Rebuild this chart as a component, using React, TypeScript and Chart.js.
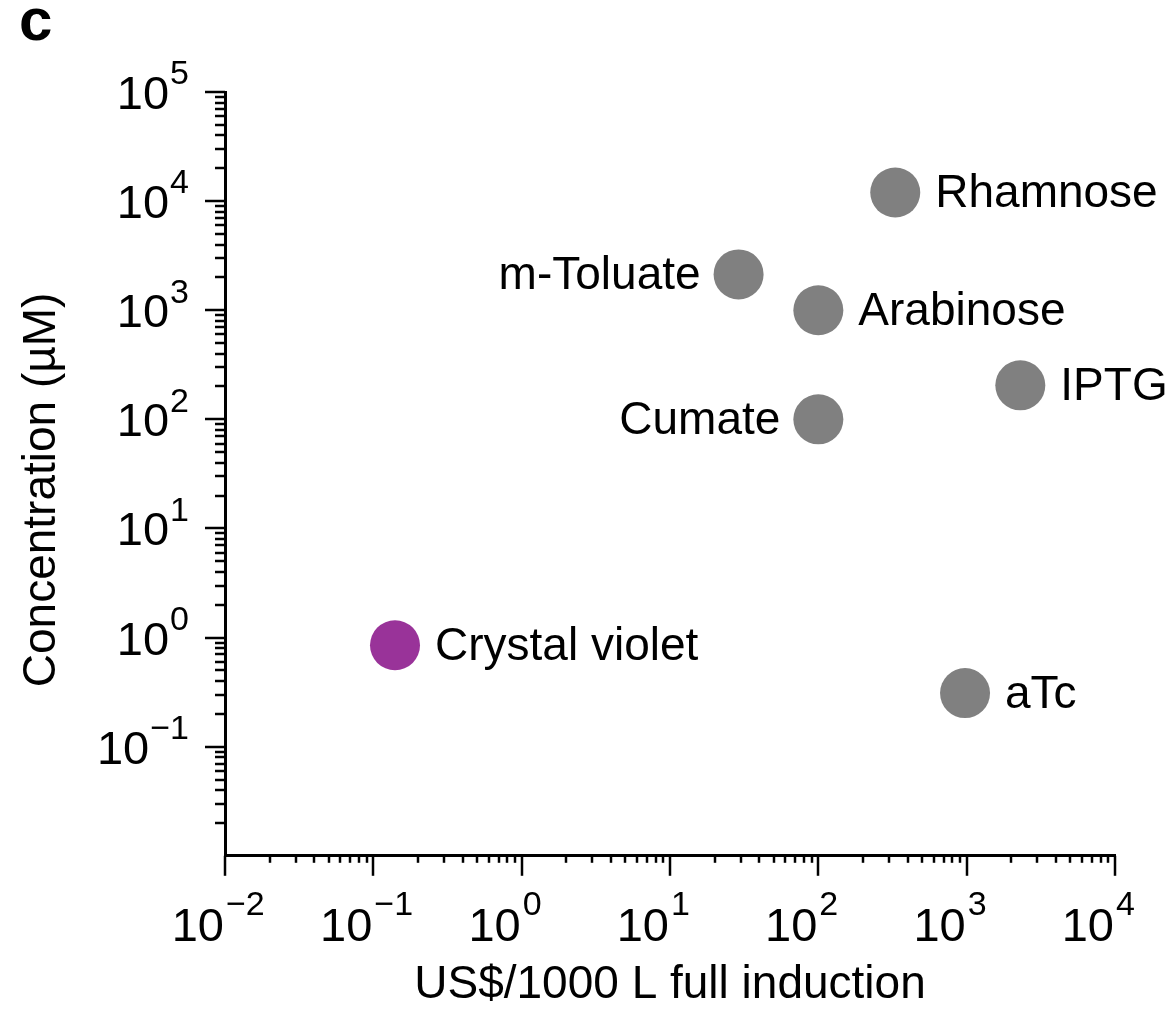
import React, { useEffect, useRef } from "react";
import { Chart, registerables } from "chart.js";

Chart.register(...registerables);

// ---- data ----
const inducers = ["Rhamnose", "m-Toluate", "Arabinose", "IPTG", "Cumate", "Crystal violet", "aTc"];
const costUSDper1000L = [330, 29, 100, 2300, 100, 0.14, 975];
const concentrationUM = [12000, 2130, 1000, 205, 100, 0.85, 0.31];
const highlighted = ["Crystal violet"];
const leftLabelled = ["m-Toluate", "Cumate"];

const xTickExponents = [-2, -1, 0, 1, 2, 3, 4];
const yTickExponents = [-1, 0, 1, 2, 3, 4, 5];

const xTitle = "US$/1000 L full induction";
const yTitle = "Concentration (\u00b5M)";
const panelLetter = "c";

// ---- styles ----
const FONT = "'Liberation Sans', Arial, Helvetica, sans-serif";
const GRAY = "#808080";
const PURPLE = "#993399";

function supText(e: number) {
  return e < 0 ? "\u2212" + Math.abs(e) : String(e);
}

const axisPlugin = {
  id: "logAxisDecor",
  afterDraw(chart: any) {
    const { ctx, chartArea } = chart;
    const xs = chart.scales.x;
    const ys = chart.scales.y;
    ctx.save();
    ctx.strokeStyle = "#000";
    ctx.fillStyle = "#000";
    ctx.lineWidth = 2.5;
    ctx.lineCap = "butt";

    // x ticks
    const xMinE = Math.round(Math.log10(xs.min));
    const xMaxE = Math.round(Math.log10(xs.max));
    for (let e = xMinE; e <= xMaxE; e++) {
      for (let m = 1; m <= 9; m++) {
        if (e === xMaxE && m > 1) break;
        const px = Math.round(xs.getPixelForValue(m * Math.pow(10, e)));
        const len = m === 1 ? 20 : 7;
        ctx.beginPath();
        ctx.moveTo(px, chartArea.bottom);
        ctx.lineTo(px, chartArea.bottom + len);
        ctx.stroke();
      }
    }
    // y ticks
    const yMinE = Math.round(Math.log10(ys.min));
    const yMaxE = Math.round(Math.log10(ys.max));
    for (let e = yMinE; e <= yMaxE; e++) {
      for (let m = 1; m <= 9; m++) {
        if (e === yMaxE && m > 1) break;
        if (e === yMinE && m === 1) continue;
        const py = Math.round(ys.getPixelForValue(m * Math.pow(10, e)));
        const len = m === 1 ? 20 : 10;
        ctx.beginPath();
        ctx.moveTo(chartArea.left, py);
        ctx.lineTo(chartArea.left - len, py);
        ctx.stroke();
      }
    }

    const mainFont = `47px ${FONT}`;
    const supFont = `34px ${FONT}`;
    ctx.textBaseline = "middle";

    // x tick labels
    xTickExponents.forEach((e) => {
      const px = xs.getPixelForValue(Math.pow(10, e));
      ctx.font = mainFont;
      ctx.textAlign = "right";
      ctx.fillText("10", px - 1, chartArea.bottom + 72);
      ctx.font = supFont;
      ctx.textAlign = "left";
      ctx.fillText(supText(e), px + 1, chartArea.bottom + 50);
    });

    // y tick labels
    const rightEdge = chartArea.left - 36;
    yTickExponents.forEach((e) => {
      const py = ys.getPixelForValue(Math.pow(10, e));
      ctx.font = supFont;
      const s = supText(e);
      const ws = ctx.measureText(s).width;
      ctx.textAlign = "left";
      ctx.fillText(s, rightEdge - ws, py - 17);
      ctx.font = mainFont;
      ctx.textAlign = "right";
      ctx.fillText("10", rightEdge - ws - 1, py + 4);
    });

    // y axis title
    ctx.save();
    ctx.font = `46px ${FONT}`;
    ctx.textAlign = "center";
    ctx.translate(42, (chartArea.top + chartArea.bottom) / 2 + 16);
    ctx.rotate(-Math.PI / 2);
    ctx.fillText(yTitle, 0, 0);
    ctx.restore();

    // point labels
    const meta = chart.getDatasetMeta(0);
    ctx.font = `46px ${FONT}`;
    inducers.forEach((name, i) => {
      const pt = meta.data[i];
      if (!pt) return;
      const left = leftLabelled.includes(name);
      ctx.textAlign = left ? "right" : "left";
      ctx.fillText(name, pt.x + (left ? -38 : 40), pt.y + 2);
    });

    // panel letter
    ctx.font = `bold 60px ${FONT}`;
    ctx.textAlign = "left";
    ctx.textBaseline = "alphabetic";
    ctx.fillText(panelLetter, 19, 40);
    ctx.restore();
  },
};

export default function App() {
  const ref = useRef<HTMLCanvasElement | null>(null);
  useEffect(() => {
    if (!ref.current) return;
    const chart = new Chart(ref.current, {
      type: "scatter",
      data: {
        datasets: [
          {
            data: costUSDper1000L.map((c, i) => ({ x: c, y: concentrationUM[i] })),
            backgroundColor: inducers.map((n) => (highlighted.includes(n) ? PURPLE : GRAY)),
            pointRadius: 25,
            pointHoverRadius: 25,
            borderWidth: 0,
          },
        ],
      },
      options: {
        animation: false,
        responsive: false,
        events: [],
        layout: { padding: { top: 92, right: 50, left: 0, bottom: 0 } },
        plugins: { legend: { display: false }, tooltip: { enabled: false } },
        scales: {
          x: {
            type: "logarithmic",
            min: 0.01,
            max: 10000,
            grid: { display: false, drawTicks: false },
            border: { display: true, color: "#000", width: 3 },
            ticks: { display: false },
            title: {
              display: true,
              text: xTitle,
              color: "#000",
              font: { family: FONT, size: 46 },
              padding: { top: 102, bottom: 3 },
            },
          },
          y: {
            type: "logarithmic",
            min: 0.01,
            max: 100000,
            grid: { display: false, drawTicks: false },
            border: { display: true, color: "#000", width: 3 },
            ticks: { display: false },
            title: { display: false },
            afterFit: (scale: any) => {
              scale.width = 225;
            },
          },
        },
      },
      plugins: [axisPlugin],
    });
    return () => chart.destroy();
  }, []);
  return (
    <div style={{ position: "absolute", left: 0, top: 0, width: 1165, height: 1016, background: "#fff" }}>
      <canvas ref={ref} width={1165} height={1016} style={{ width: 1165, height: 1016 }} />
    </div>
  );
}
